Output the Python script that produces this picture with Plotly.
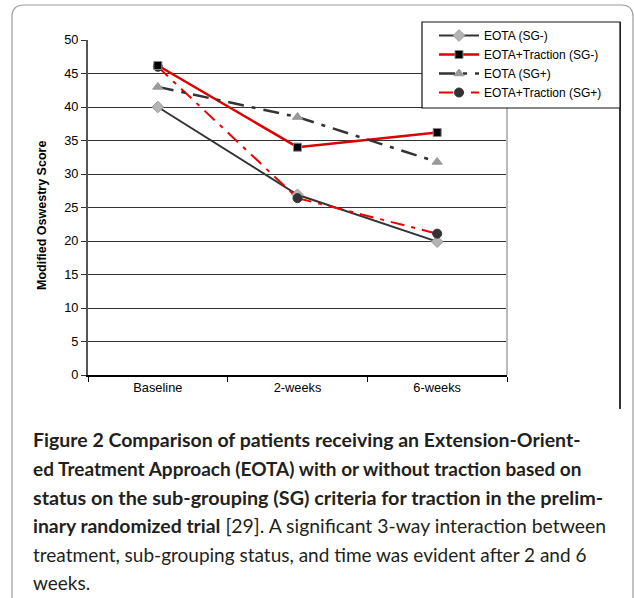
import plotly.graph_objects as go

categories = ["Baseline", "2-weeks", "6-weeks"]
eota_sg_neg = [40.0, 26.9, 19.9]
eota_trac_sg_neg = [46.2, 34.0, 36.2]
eota_sg_pos = [43.0, 38.5, 31.8]
eota_trac_sg_pos = [46.0, 26.4, 21.1]
y_ticks = [0, 5, 10, 15, 20, 25, 30, 35, 40, 45, 50]

W, H = 634, 598
L, R, T, B = 88, 507, 40, 375


def px(x):
    return (x - L) / (R - L)


def py(y):
    return (B - y) / (B - T)


fig = go.Figure()

fig.add_trace(go.Scatter(
    x=categories, y=eota_sg_neg, name="EOTA (SG-)", mode="lines+markers",
    line=dict(color="#333333", width=2),
    marker=dict(symbol="diamond", size=9, color="#b4b4b4", line=dict(color="#9a9a9a", width=1)),
    legendrank=1))
fig.add_trace(go.Scatter(
    x=categories, y=eota_trac_sg_pos, name="EOTA+Traction (SG+)", mode="lines+markers",
    line=dict(color="#ee0000", width=2, dash="14px,7px,4px,7px"),
    marker=dict(symbol="circle", size=9, color="#333333", line=dict(color="#333333", width=1)),
    legendrank=4))
fig.add_trace(go.Scatter(
    x=categories, y=eota_trac_sg_neg, name="EOTA+Traction (SG-)", mode="lines+markers",
    line=dict(color="#dd0000", width=2.5),
    marker=dict(symbol="square", size=8, color="#000000", line=dict(color="#888888", width=1)),
    legendrank=2))
fig.add_trace(go.Scatter(
    x=categories, y=eota_sg_pos, name="EOTA (SG+)", mode="lines+markers",
    line=dict(color="#333333", width=2.5, dash="16px,8px,4px,8px"),
    marker=dict(symbol="triangle-up", size=9, color="#999999", line=dict(color="#999999", width=1)),
    legendrank=3))

shapes = []
frame = (f"M {px(12)},{py(600)} L {px(12)},{py(17)} Q {px(12)},{py(5)} {px(24)},{py(5)} "
         f"L {px(621)},{py(5)} Q {px(633)},{py(5)} {px(633)},{py(17)} L {px(633)},{py(600)}")
shapes.append(dict(type="path", xref="paper", yref="paper", path=frame,
                   line=dict(color="#9a9a9a", width=1.2), layer="below"))
shapes.append(dict(type="line", xref="paper", yref="paper", x0=1, x1=1, y0=0, y1=1,
                   line=dict(color="#bbbbbb", width=2), layer="above"))
shapes.append(dict(type="line", xref="paper", yref="paper", x0=px(620), x1=px(620),
                   y0=py(409), y1=py(22), line=dict(color="#333333", width=2), layer="above"))
shapes.append(dict(type="rect", xref="paper", yref="paper", x0=px(422), x1=px(620),
                   y0=py(108), y1=py(22), fillcolor="white",
                   line=dict(color="#111111", width=1.2), layer="above"))

annotations = []
annotations.append(dict(
    text="<b>Modified Oswestry Score</b>", xref="paper", yref="paper",
    x=px(42), y=py(216), textangle=-90, showarrow=False,
    font=dict(family="Liberation Sans, Arial", size=12.5, color="#000000"),
    xanchor="center", yanchor="middle"))

caption_lines = [
    "<b>Figure 2 Comparison of patients receiving an Extension-Orient-</b>",
    "<b>ed Treatment Approach (EOTA) with or without traction based on</b>",
    "<b>status on the sub-grouping (SG) criteria for traction in the prelim-</b>",
    "<b>inary randomized trial</b> [29]. A significant 3-way interaction between",
    "treatment, sub-grouping status, and time was evident after 2 and 6",
    "weeks.",
]
caption_sizes = [19.5, 19, 19.8, 19.4, 19, 19]
line_y = [440, 468.5, 497, 525.5, 554, 582.5]
for txt, yy, fs in zip(caption_lines, line_y, caption_sizes):
    annotations.append(dict(
        text=txt, xref="paper", yref="paper", x=px(31), y=py(yy),
        showarrow=False, xanchor="left", yanchor="middle",
        font=dict(family="Lato", size=fs, color="#231f20")))

fig.update_layout(
    width=W, height=H,
    margin=dict(l=L, r=W - R, t=T, b=H - B, pad=0),
    paper_bgcolor="white", plot_bgcolor="white",
    font=dict(family="Liberation Sans, Arial", size=12, color="#000000"),
    showlegend=True,
    legend=dict(x=px(434), y=py(21), xanchor="left", yanchor="top",
                bgcolor="rgba(0,0,0,0)", borderwidth=0,
                font=dict(family="Liberation Sans, Arial", size=12, color="#000000"),
                itemwidth=40, tracegroupgap=0),
    xaxis=dict(type="category", categoryorder="array", categoryarray=categories,
               range=[-0.5, 2.5], showline=True, linecolor="#000000", linewidth=1.5,
               ticks="outside", tickson="boundaries", ticklen=5, tickcolor="#000000",
               showgrid=False, zeroline=False, tickfont=dict(size=12.8)),
    yaxis=dict(range=[0, 50], tickvals=y_ticks, showline=True, linecolor="#555555",
               linewidth=2, ticks="outside", ticklen=5, tickcolor="#333333",
               showgrid=True, gridcolor="#333333", gridwidth=1, zeroline=False,
               tickfont=dict(size=12.8)),
    shapes=shapes, annotations=annotations,
)

fig.write_html("out.html", config={"displayModeBar": False},
               post_script="document.body.style.margin='0';document.body.style.overflow='hidden';")
